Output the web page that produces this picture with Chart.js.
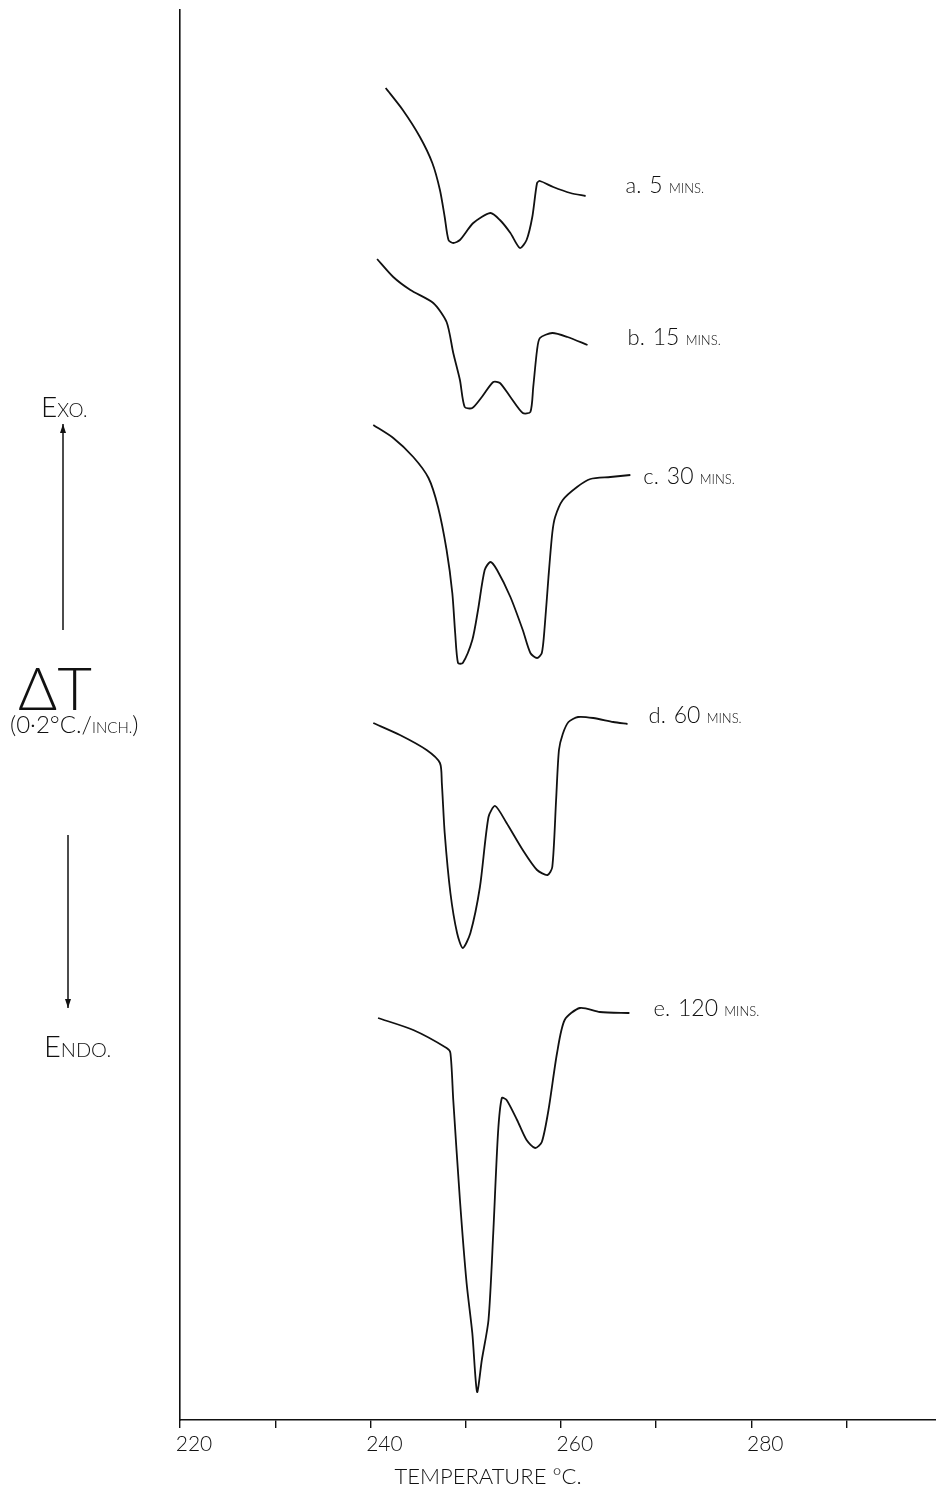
<!DOCTYPE html>
<html>
<head>
<meta charset="utf-8">
<script src="https://cdn.jsdelivr.net/npm/chart.js@4/dist/chart.umd.min.js"></script>
<style>
    html, body { margin: 0; padding: 0; background: #fff; }
    canvas { display: block; }
</style>
</head>
<body>
<canvas id="dtaChart" width="936" height="1501"></canvas>
<script>
// Curve labels (annealing time)
const curveNames = ["a.", "b.", "c.", "d.", "e."];
const curveTimes = ["5", "15", "30", "60", "120"];
const xTickLabels = [220, 240, 260, 280];

// Temperature (deg C) and Delta T (arbitrary chart units, curves stacked)
const tempA = [241.6, 243.4, 245.2, 246.5, 247.3, 247.8, 248.2, 248.7, 249.4, 250.8, 252.6, 253.6, 254.7, 255.7, 256.4, 257.0, 257.5, 257.8, 259.2, 261.0, 262.6];
const dtA   = [133.2, 131.0, 128.3, 125.7, 123.0, 120.3, 118.0, 117.7, 118.0, 119.7, 120.7, 120.0, 118.7, 117.2, 118.0, 120.3, 123.7, 123.9, 123.3, 122.7, 122.4];

const tempB = [240.7, 242.4, 244.2, 246.6, 248.0, 248.7, 249.4, 249.9, 250.7, 251.7, 252.9, 253.6, 254.7, 256.0, 256.8, 257.1, 257.5, 257.8, 259.1, 260.7, 262.8];
const dtB   = [116.1, 114.3, 113.0, 111.7, 109.8, 106.7, 104.0, 101.3, 101.2, 102.3, 103.8, 103.7, 102.3, 100.7, 100.8, 103.3, 107.0, 108.2, 108.7, 108.3, 107.5];

const tempC = [240.3, 242.4, 244.5, 246.1, 247.1, 248.0, 248.6, 248.9, 249.2, 249.7, 250.7, 251.3, 252.0, 252.6, 253.3, 254.7, 256.0, 256.8, 257.5, 258.0, 258.3, 258.7, 259.1, 259.4, 260.2, 261.7, 263.1, 265.2, 267.3];
const dtC   = [99.5, 98.2, 96.3, 94.2, 91.3, 87.0, 82.7, 78.7, 75.7, 75.7, 78.0, 81.0, 85.0, 85.8, 85.0, 82.3, 79.0, 76.7, 76.2, 76.7, 79.3, 84.3, 88.7, 90.3, 92.0, 93.3, 94.1, 94.3, 94.5];

const tempD = [240.3, 243.1, 245.9, 247.3, 247.5, 247.8, 248.4, 249.1, 249.7, 250.5, 251.5, 252.4, 253.1, 254.3, 256.0, 257.5, 258.6, 259.1, 259.5, 259.8, 260.2, 260.8, 261.8, 263.4, 265.5, 267.0];
const dtD   = [69.7, 68.5, 67.0, 65.7, 63.7, 58.7, 52.7, 48.7, 47.2, 48.7, 53.3, 60.3, 61.4, 59.7, 57.0, 55.0, 54.5, 55.3, 62.0, 67.0, 68.6, 69.8, 70.3, 70.2, 69.8, 69.6];

const tempE = [240.8, 244.5, 248.0, 248.4, 248.7, 249.4, 250.1, 250.7, 251.2, 251.7, 252.4, 252.9, 253.4, 253.8, 254.3, 255.4, 256.4, 257.3, 258.0, 258.7, 259.6, 260.4, 262.0, 264.1, 267.2];
const dtE   = [40.2, 39.0, 37.2, 36.7, 32.0, 22.0, 13.7, 8.7, 2.8, 6.0, 10.0, 18.7, 28.7, 32.2, 32.0, 30.0, 28.0, 27.2, 27.8, 31.0, 36.7, 40.0, 41.2, 40.8, 40.7];

const temps = [tempA, tempB, tempC, tempD, tempE];
const deltas = [dtA, dtB, dtC, dtD, dtE];

const INK = "#111";
const FONT = "Lato, 'DejaVu Sans', sans-serif";

// label placement relative to the end of each curve
const labelShift = [[40, -3], [40, 0], [13, 9], [21, -1], [24, 3]];

function toPoints(xs, ys) {
    return xs.map((x, i) => ({ x: x, y: ys[i] }));
}

// mixed-size lettering: big part then small caps part
function drawMixed(ctx, x, y, parts) {
    let cx = x;
    parts.forEach(p => {
        ctx.font = "300 " + p[1] + "px " + FONT;
        ctx.fillText(p[0], cx, y);
        cx += ctx.measureText(p[0]).width + (p[2] || 0);
    });
}

function arrow(ctx, x, y1, y2) {
    const dir = y2 < y1 ? -1 : 1;
    ctx.beginPath();
    ctx.moveTo(x, y1);
    ctx.lineTo(x, y2);
    ctx.stroke();
    ctx.beginPath();
    ctx.moveTo(x, y2);
    ctx.lineTo(x - 3, y2 - dir * 9);
    ctx.lineTo(x + 3, y2 - dir * 9);
    ctx.closePath();
    ctx.fill();
}

const handLettering = {
    id: "handLettering",
    afterDraw(chart) {
        const ctx = chart.ctx;
        const xs = chart.scales.x;
        const ys = chart.scales.y;
        ctx.save();
        ctx.fillStyle = INK;
        ctx.strokeStyle = INK;
        ctx.lineWidth = 1.5;
        ctx.textBaseline = "alphabetic";
        ctx.textAlign = "left";

        // curve labels
        temps.forEach((t, i) => {
            const last = t.length - 1;
            const px = xs.getPixelForValue(t[last]) + labelShift[i][0];
            const py = ys.getPixelForValue(deltas[i][last]) + labelShift[i][1];
            drawMixed(ctx, px, py, [[curveNames[i] + " ", 22, 2], [curveTimes[i] + " ", 23], ["MINS.", 13]]);
        });

        // y axis description
        drawMixed(ctx, 41, 417, [["E", 28], ["XO.", 19]]);
        arrow(ctx, 63, 630, 424);
        ctx.font = "300 60px " + FONT;
        ctx.fillText("\u0394T", 18, 710);
        drawMixed(ctx, 10, 733, [["(0\u00b72\u00b0C./", 24], ["INCH.", 15], [")", 24]]);
        arrow(ctx, 68, 835, 1008);
        drawMixed(ctx, 44, 1057, [["E", 29], ["NDO.", 20]]);

        // x axis title
        ctx.textAlign = "center";
        ctx.font = "300 22px " + FONT;
        ctx.fillText("TEMPERATURE \u00b0C.", 488, 1484);
        ctx.restore();
    }
};

const chartCanvas = document.getElementById("dtaChart");

if (chartCanvas) {
    new Chart(chartCanvas, {
        type: "line",
        data: {
            datasets: temps.map((t, i) => ({
                label: curveNames[i] + " " + curveTimes[i] + " mins",
                data: toPoints(t, deltas[i]),
                borderColor: INK,
                borderWidth: 1.8,
                pointRadius: 0,
                fill: false,
                tension: 0.25,
            })),
        },
        options: {
            responsive: false,
            animation: false,
            layout: { padding: { top: 10, right: 0, left: 0, bottom: 0 } },
            plugins: {
                legend: { display: false },
                tooltip: { enabled: false },
            },
            scales: {
                x: {
                    type: "linear",
                    min: 220,
                    max: 299.4,
                    afterFit: (scale) => { scale.height = 81; },
                    border: { display: true, color: INK, width: 1.6 },
                    grid: { drawOnChartArea: false, drawTicks: true, tickLength: 8, color: INK, lineWidth: 1.4 },
                    ticks: {
                        stepSize: 10,
                        includeBounds: false,
                        autoSkip: false,
                        maxRotation: 0,
                        labelOffset: 14,
                        padding: 4,
                        color: INK,
                        font: { family: FONT, size: 21, weight: "300" },
                        callback: (v) => xTickLabels.includes(v) ? String(v) : "",
                    },
                },
                y: {
                    type: "linear",
                    min: 0,
                    max: 141,
                    afterFit: (scale) => { scale.width = 180; },
                    border: { display: true, color: INK, width: 1.6 },
                    grid: { drawOnChartArea: false, drawTicks: false },
                    ticks: { display: false },
                },
            },
        },
        plugins: [handLettering],
    });
}
</script>
</body>
</html>
